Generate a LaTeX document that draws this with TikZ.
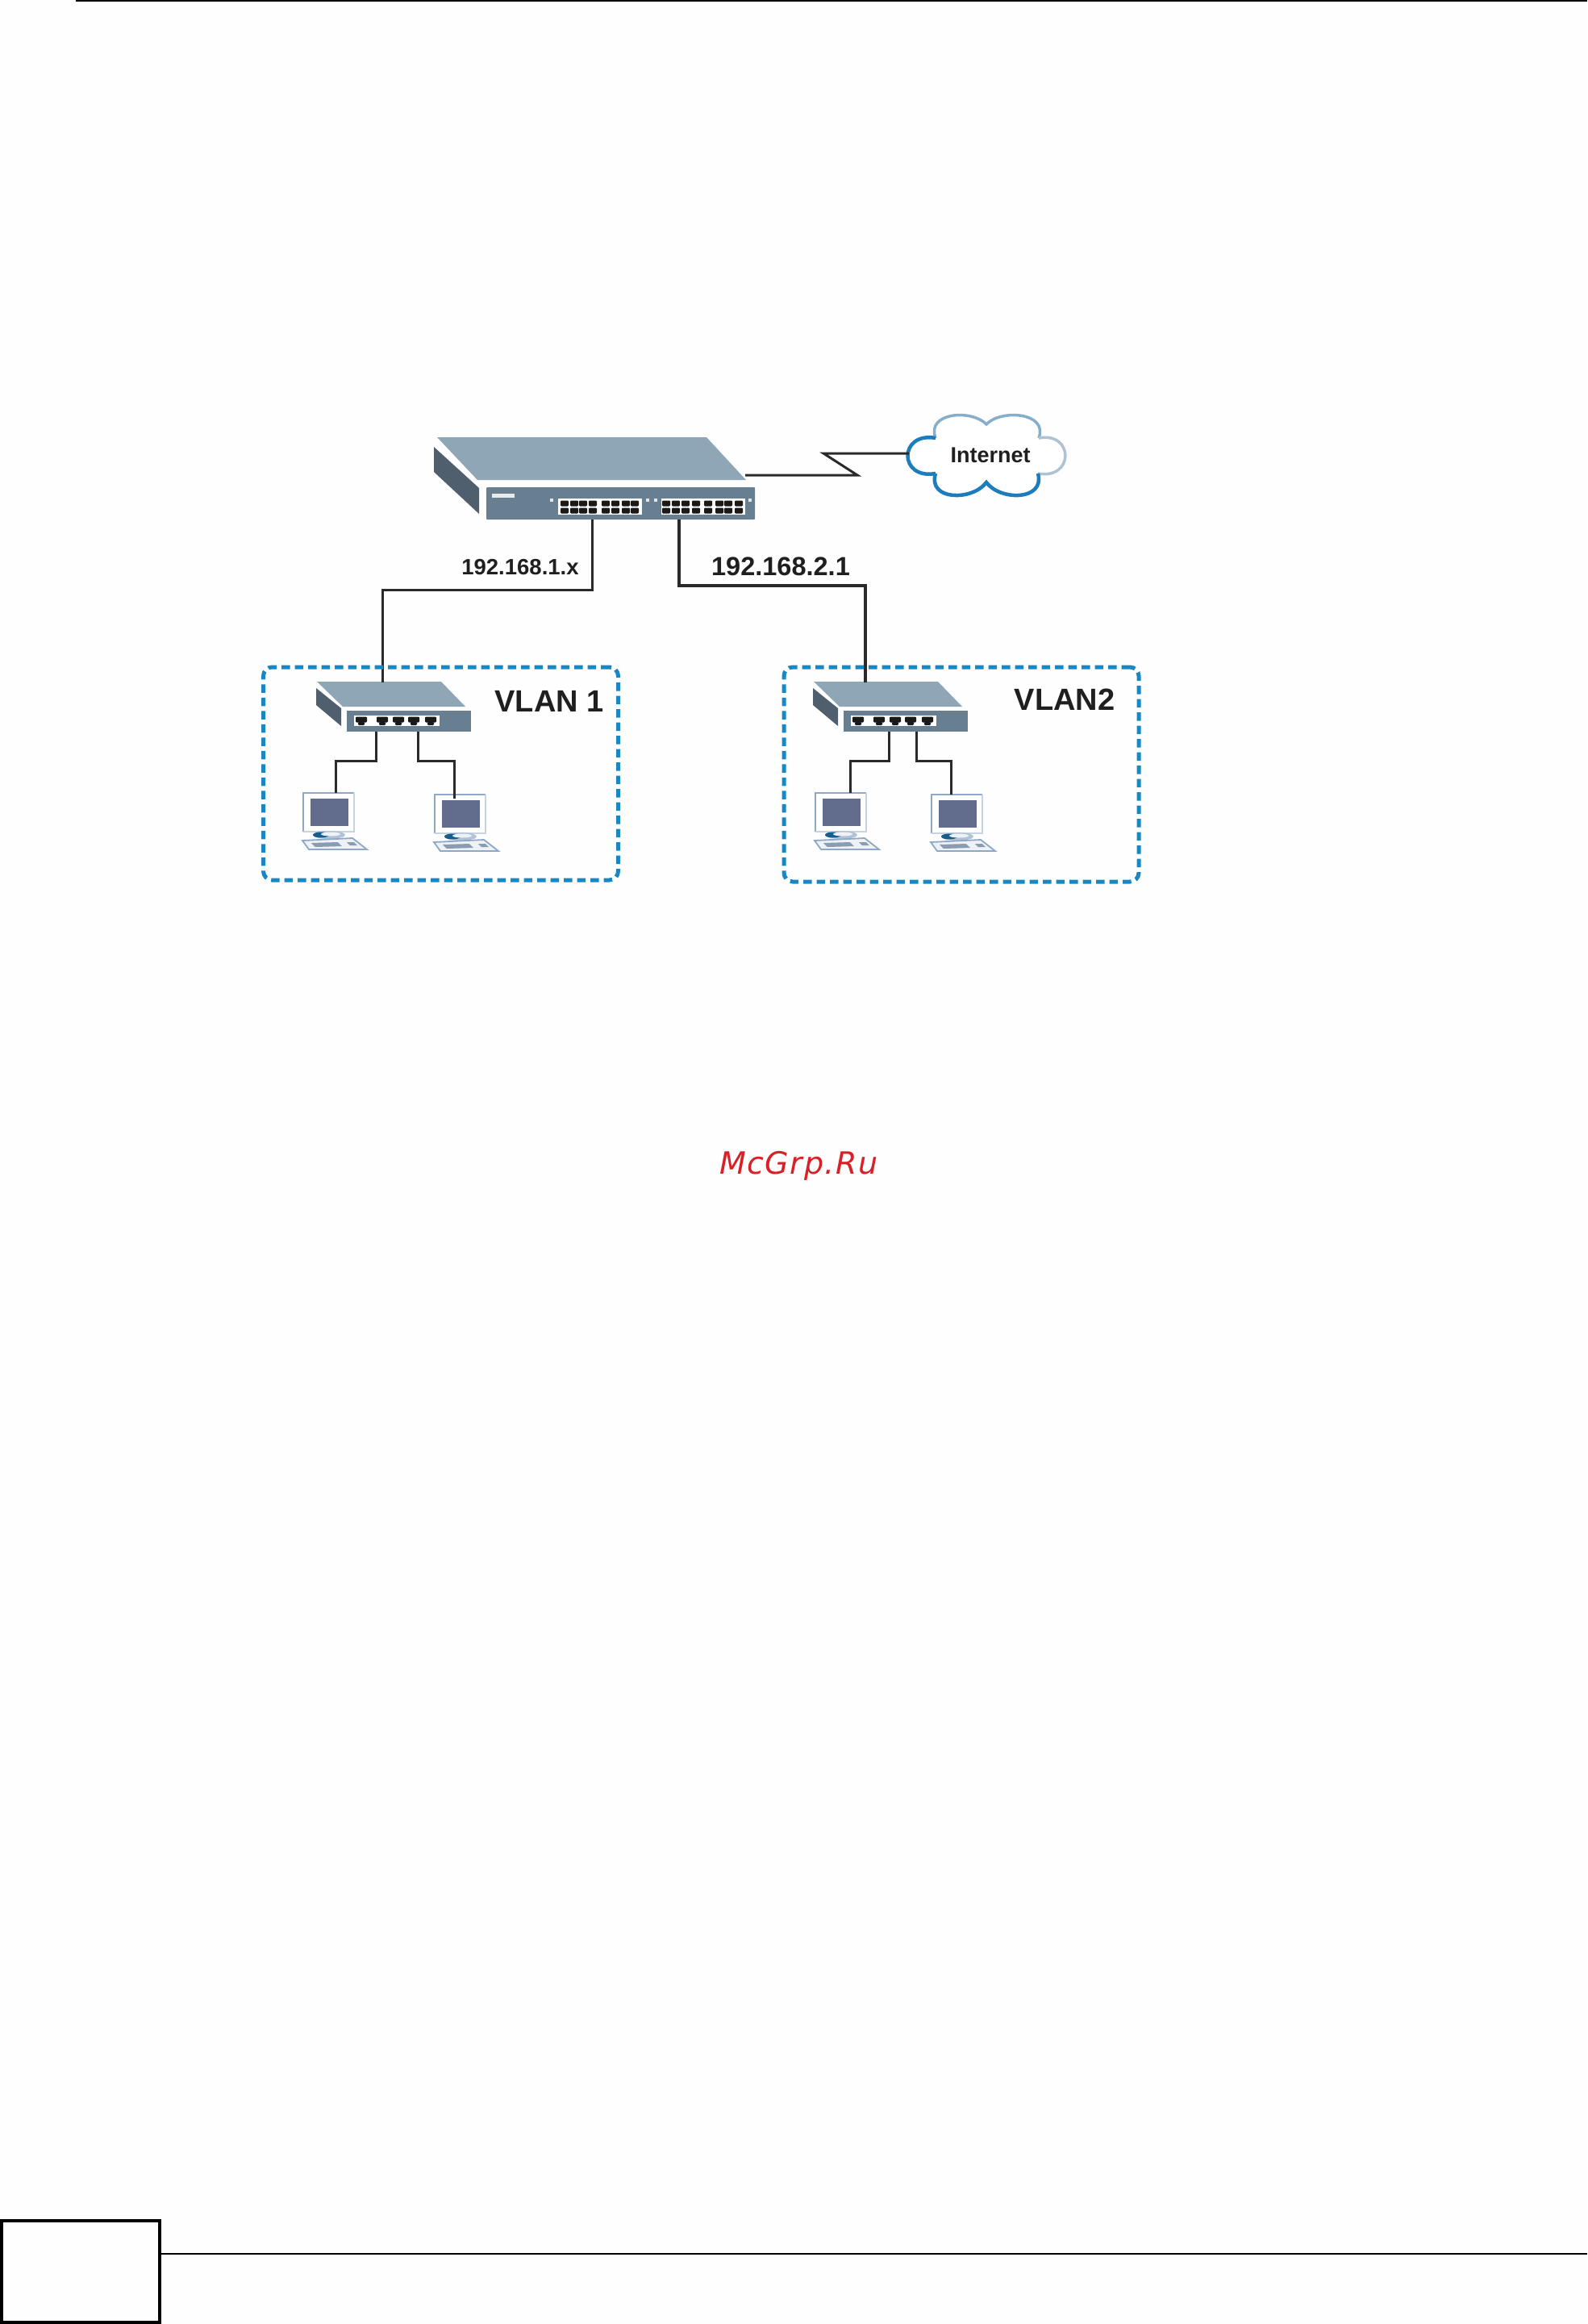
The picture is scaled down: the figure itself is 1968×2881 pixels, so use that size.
\documentclass[tikz,border=0pt]{standalone}
\usepackage{fontspec}
\setmainfont{Liberation Sans}
\newfontfamily\wmfont[LetterSpace=4]{DejaVu Sans}
\definecolor{swtop}{HTML}{8FA6B6}
\definecolor{swside}{HTML}{4F5F6E}
\definecolor{swfront}{HTML}{677F90}
\definecolor{vlanblue}{HTML}{1B87C2}
\definecolor{cloudblue}{HTML}{1C7DBE}
\definecolor{cloudmid}{HTML}{86AECB}
\definecolor{cloudpale}{HTML}{AEC2D2}
\definecolor{scr}{HTML}{626C8C}
\definecolor{pcedge}{HTML}{8FA8C6}
\definecolor{page}{HTML}{FEFEFE}
\definecolor{wm}{HTML}{D92027}
\definecolor{wire}{HTML}{2A2A2A}
\tikzset{
  x=1pt,y=-1pt,
  lbl/.style={inner sep=0pt,text=black!88,font=\bfseries},
  wirethin/.style={draw=wire,line width=3pt,line join=miter},
  wirethick/.style={draw=wire,line width=4.2pt,line join=miter},
  vlanbox/.style={draw=vlanblue,line width=5pt,dash pattern=on 10.5pt off 6pt,rounded corners=11pt},
  rj/.style={fill=black!90,draw=none,rounded corners=1.2pt},
  frontbox/.style={fill=swfront,draw=none,inner sep=0pt,rounded corners=1pt},
  pc/.pic={
    \fill[white] (0,0) rectangle (63,48);
    \draw[pcedge,line width=2.5pt] (0,48) -- (0,0) -- (63,0);
    \draw[pcedge!50,line width=1.5pt] (63,0) -- (63,48) -- (0,48);
    \fill[scr] (9,7) rectangle (56,41);
    \fill[pcedge!70] (32,52) ellipse (20 and 5);
    \fill[cloudblue!75!black] (22,52) ellipse (10 and 3.5);
    \fill[white!85!pcedge] (34,51) ellipse (12 and 2.5);
    \filldraw[draw=pcedge,fill=white!85!pcedge,line width=1.8pt]
       (-1,59) -- (61,56) -- (79,70) -- (7,70) -- cycle;
    \fill[pcedge!70!gray] (10,62) -- (43,61) -- (48,66) -- (15,67) -- cycle;
    \fill[pcedge!70!gray] (54,61) -- (63,61) -- (67,65) -- (58,65) -- cycle;
  },
  smallsw/.pic={
    \fill[swtop] (393,845) -- (547,845) -- (577,876) -- (425,876) -- cycle;
    \fill[swside] (392,853) -- (423,878) -- (423,900) -- (392,874) -- cycle;
    \fill[swfront] (430,881) rectangle (584,907);
    \fill[white] (439,887) rectangle (545,900);
    \foreach \px in {448,474,494,513,534}{
      \fill[rj] (\px-7,888.5) rectangle (\px+7,895.5);
      \fill[rj] (\px-4,895) rectangle (\px+4,899);
    }
  }
}
\begin{document}
\begin{tikzpicture}
\useasboundingbox (0,0) rectangle (1968,2881);
\fill[page] (0,0) rectangle (1968,2881);

% page furniture
\coordinate (topL) at (94,1);
\coordinate (topR) at (1968,1);
\draw[black,line width=2pt] (topL) -- (topR);
\node[draw=black,line width=4pt,minimum width=196pt,minimum height=126pt,inner sep=0pt,fill=page] (tab) at (100,2816) {};
\coordinate (footR) at (1968,2794);
\draw[black,line width=2pt] (tab.east |- footR) -- (footR);

% core switch
\fill[swtop] (542,542) -- (876,542) -- (925,595) -- (592,595) -- cycle;
\fill[swside] (538,554) -- (594,605) -- (594,637) -- (538,585) -- cycle;
\node[frontbox,minimum width=333pt,minimum height=40pt] (core) at (769.5,624) {};
\fill[white!85!swfront] (610,612) rectangle (638,617);
\fill[white] (692,618) rectangle (796,638);
\fill[white] (820,618) rectangle (924,638);
\foreach \px in {700,712,723,735,751,763,776,787,826,838,850,863,878,892,903,916}{
  \fill[rj] (\px-5,620.5) rectangle (\px+5,627.5);
  \fill[rj] (\px-5,629.5) rectangle (\px+5,636.5);
}
\foreach \px in {684,803,813,930}{\fill[white!80!swfront] (\px-2,618) rectangle (\px+2,622);}

% small switches
\pic at (0,0) {smallsw};
\pic at (616,0) {smallsw};

% PCs
\pic at (376,983) {pc};
\pic at (539,985) {pc};
\pic at (1011,983) {pc};
\pic at (1155,985) {pc};

% cloud
\path[fill=white] (1160,543) .. controls (1148,511) and (1205,507) .. (1223,526)
  .. controls (1241,507) and (1300,511) .. (1288,543)
  .. controls (1332,535) and (1332,595) .. (1287,587)
  .. controls (1296,621) and (1240,621) .. (1223,598)
  .. controls (1206,621) and (1150,621) .. (1160,587)
  .. controls (1114,595) and (1114,535) .. (1160,543) -- cycle;
\draw[cloudmid,line width=3.5pt] (1160,543) .. controls (1148,511) and (1205,507) .. (1223,526)
  .. controls (1241,507) and (1300,511) .. (1288,543);
\draw[cloudpale,line width=3.5pt] (1288,543) .. controls (1332,535) and (1332,595) .. (1287,587);
\draw[cloudblue,line width=4.5pt] (1287,587) .. controls (1296,621) and (1240,621) .. (1223,598)
  .. controls (1206,621) and (1150,621) .. (1160,587);
\draw[cloudblue,line width=4.5pt] (1160,587) .. controls (1114,595) and (1114,535) .. (1160,543);
\node[lbl,font=\fontsize{27}{27}\selectfont\bfseries] (internet) at (1228,564) {Internet};

% connector anchors
\coordinate (wanS) at (924,589);
\coordinate (wanA) at (1063,589);
\coordinate (wanB) at (1021,562);
\coordinate (cloudL) at (1127,562);
\coordinate (coreL) at (734,644);
\coordinate (coreR) at (842,644);
\coordinate (upL) at (474,846);
\coordinate (upR) at (1073,846);

\draw[wirethin] (wanS) -- (wanA) -- (wanB) -- (cloudL);
\draw[wirethin] (coreL) |- (upL |- 0,731) -- (upL);
\draw[wirethick] (coreR) |- (upR |- 0,726) -- (upR);

% VLAN 1 leaf wires
\coordinate (s1a) at (466,907); \coordinate (p1) at (416,983);
\coordinate (s1b) at (518,907); \coordinate (p2) at (563,990);
\draw[wirethin] (s1a) |- (p1 |- 0,943) -- (p1);
\draw[wirethin] (s1b) |- (p2 |- 0,943) -- (p2);
% VLAN 2 leaf wires
\coordinate (s2a) at (1102,907); \coordinate (p3) at (1054,983);
\coordinate (s2b) at (1136,907); \coordinate (p4) at (1179,985);
\draw[wirethin] (s2a) |- (p3 |- 0,943) -- (p3);
\draw[wirethin] (s2b) |- (p4 |- 0,943) -- (p4);

% VLAN boxes
\node[vlanbox,minimum width=440pt,minimum height=264pt,inner sep=0pt] (vlan1) at (546.5,959) {};
\node[vlanbox,minimum width=440pt,minimum height=266pt,inner sep=0pt] (vlan2) at (1192,960) {};

% labels
\node[lbl,font=\fontsize{27.5}{27.5}\selectfont\bfseries] (ip1) at (645,703) {192.168.1.x};
\node[lbl,font=\fontsize{32.5}{32.5}\selectfont\bfseries] (ip2) at (968,702) {192.168.2.1};
\node[lbl,font=\fontsize{38}{38}\selectfont\bfseries] (v1) at (681,869) {VLAN 1};
\node[lbl,font=\fontsize{38}{38}\selectfont\bfseries] (v2) at (1320,867) {VLAN2};

% watermark
\node[anchor=base west,inner sep=0pt,text=wm,font=\fontsize{38}{38}\selectfont\wmfont\itshape] (mark) at (892,1455) {McGrp.Ru};
\end{tikzpicture}
\end{document}
